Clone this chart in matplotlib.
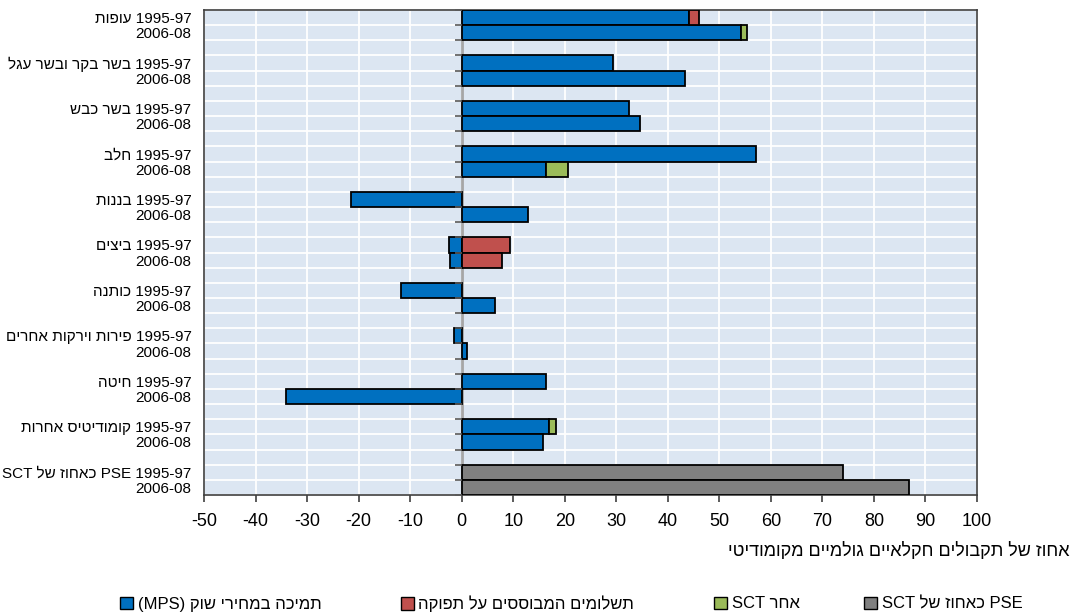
import re
import numpy as np
import matplotlib
matplotlib.use("Agg")
import matplotlib.pyplot as plt
from matplotlib.patches import Patch

# ---------------- data ----------------
commodities = ['עופות', 'בשר בקר ובשר עגל', 'בשר כבש', 'חלב', 'בננות', 'ביצים',
               'כותנה', 'פירות וירקות אחרים', 'חיטה', 'קומודיטיס אחרות',
               'SCT כאחוז של PSE']
periods = ['1995-97', '2006-08']

# values per commodity: [1995-97, 2006-08]
mps = [[44.1, 54.3], [29.3, 43.3], [32.4, 34.6], [57.2, 16.3], [-21.5, 12.8],
       [-2.4, -2.2], [-11.8, 6.5], [-1.5, 1.1], [16.3, -34.1], [16.9, 15.7],
       [0, 0]]
output_pay = [[1.9, 0], [0, 0], [0, 0], [0, 0], [0, 0],
              [9.4, 7.9], [0, 0], [0, 0], [0, 0], [0, 0], [0, 0]]
other_sct = [[0, 1.0], [0, 0], [0, 0], [0, 4.4], [0, 0],
             [0, 0], [0, 0], [0, 0], [0, 0], [1.5, 0], [0, 0]]
sct_pct_pse = [[0, 0], [0, 0], [0, 0], [0, 0], [0, 0],
               [0, 0], [0, 0], [0, 0], [0, 0], [0, 0], [74.0, 86.9]]

legend_labels = ['תמיכה במחירי שוק (MPS)', 'תשלומים המבוססים על תפוקה',
                 'SCT אחר', 'SCT כאחוז של PSE']
xlabel = 'אחוז של תקבולים חקלאיים גולמיים מקומודיטי'
xticks = list(range(-50, 101, 10))

colors = ['#0070C0', '#C0504D', '#9BBB59', '#808080']


# ---------------- visual-order helpers for Hebrew ----------------
def vis(s):
    """Logical Hebrew (RTL paragraph) -> left-to-right visual order."""
    r = s[::-1]
    return re.sub(r'[A-Za-z0-9\-\(\)]+(?: [A-Za-z0-9\-\(\)]+)*',
                  lambda m: m.group(0)[::-1], r)


def vis_ltr_first(s):
    """Paragraph starting with Latin: reverse only the Hebrew runs."""
    return re.sub(r'[\u0590-\u05FF]+(?: [\u0590-\u05FF]+)*', lambda m: m.group(0)[::-1], s)


def to_visual(s):
    return vis_ltr_first(s) if re.match(r'[A-Za-z]', s) else vis(s)


plt.rcParams['font.family'] = ['Liberation Sans', 'DejaVu Sans']

fig = plt.figure(figsize=(10.74, 6.15), dpi=100)
ax = fig.add_axes([204 / 1074, 1 - 495 / 615, (977 - 204) / 1074, (495 - 10) / 615])
ax.set_facecolor('#DCE6F2')

n = len(commodities)
ypos = []
labels = []
for g in range(n):
    for p in range(2):
        ypos.append(3 * g + p)
        if p == 0:
            labels.append(to_visual(commodities[g]) + ' ' + periods[0])
        else:
            labels.append(periods[1])
ypos = np.array(ypos)

series = [mps, output_pay, other_sct, sct_pct_pse]
flat = [np.array(s).ravel() for s in series]

pos_base = np.zeros(len(ypos))
neg_base = np.zeros(len(ypos))
for vals, c in zip(flat, colors):
    left = np.where(vals >= 0, pos_base, neg_base)
    mask = vals != 0
    ax.barh(ypos[mask], vals[mask], left=left[mask], height=1.0, color=c,
            edgecolor='black', linewidth=1.3, zorder=3)
    pos_base = pos_base + np.where(vals > 0, vals, 0)
    neg_base = neg_base + np.where(vals < 0, vals, 0)

nrows = 3 * n - 1
ax.set_ylim(nrows - 0.5, -0.5)
ax.set_xlim(-50, 100)

ax.set_xticks(xticks)
ax.set_xticklabels([str(t) for t in xticks], fontsize=13)
ax.set_yticks(ypos)
ax.set_yticklabels(labels, fontsize=11)
ax.set_yticks(np.arange(-0.5, nrows, 1.0), minor=True)
ax.grid(True, axis='x', which='major', color='white', lw=1.3, zorder=1)
ax.grid(True, axis='y', which='minor', color='white', lw=1.3, zorder=1)
ax.tick_params(axis='y', which='both', length=0, pad=9)
ax.tick_params(axis='x', which='major', direction='out', length=5, width=1.2,
               color='#404040', pad=8)

for sp in ax.spines.values():
    sp.set_color('#404040')
    sp.set_linewidth(1.2)

ax.axvline(0, color='#A6A6A6', lw=2, zorder=2)
bounds = np.arange(-0.5, nrows, 1.0)
ax.plot(np.zeros_like(bounds), bounds, ls='', marker=0, ms=5, mew=1.2,
        color='#595959', zorder=4, clip_on=False)

fig.text(1070 / 1074, 1 - 551 / 615, vis(xlabel), ha='right', va='center', fontsize=13)

# legend: one entry per box, placed at the square positions of the reference
square_x = [120, 401, 714, 864]
for c, lab, sx in zip(colors, legend_labels, square_x):
    h = Patch(facecolor=c, edgecolor='black', linewidth=1)
    fig.legend([h], [to_visual(lab)], loc='center left',
               bbox_to_anchor=(sx / 1074, 1 - 604 / 615), frameon=False,
               fontsize=12, handlelength=0.75, handleheight=0.75,
               handletextpad=0.3, borderaxespad=0, borderpad=0)

fig.savefig('out.png', dpi=100)
